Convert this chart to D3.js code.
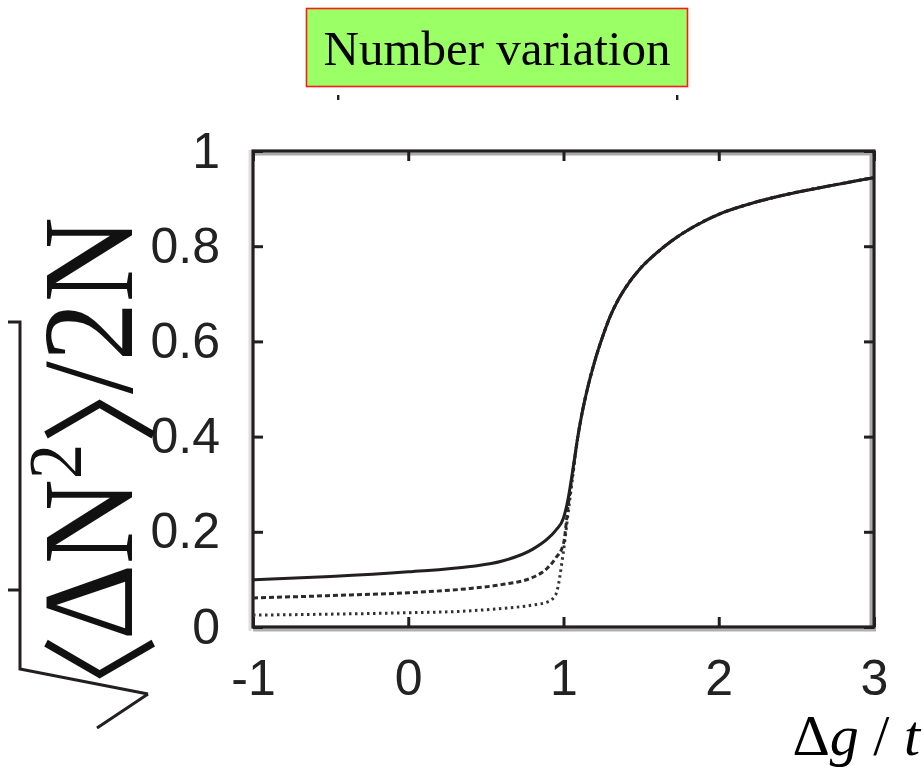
<!DOCTYPE html>
<html lang="en">
<head>
<meta charset="utf-8">
<title>Number variation</title>
<script src="https://cdn.jsdelivr.net/npm/d3@7"></script>
<style>
  body { margin: 0; background: #fff; }
  svg { display: block; }
</style>
</head>
<body>
<svg width="924" height="770"></svg>
<script>
// x grid shared by the three curves (Δg / t)
var xValues = [-1, -0.5, 0, 0.4, 0.6, 0.8, 0.9, 0.95, 1.0, 1.03, 1.06, 1.09, 1.12, 1.15, 1.2, 1.25, 1.3, 1.35, 1.4, 1.5, 1.6, 1.7, 1.85, 2.0, 2.2, 2.4, 2.7, 3.0];

// sqrt(<dN^2>)/2N for three system sizes
var solidValues  = [0.099, 0.106, 0.116, 0.127, 0.138, 0.163, 0.186, 0.203, 0.229, 0.27, 0.33, 0.395, 0.45, 0.495, 0.557, 0.608, 0.652, 0.686, 0.713, 0.755, 0.786, 0.812, 0.843, 0.867, 0.889, 0.906, 0.926, 0.944];
var dashedValues = [0.061, 0.066, 0.072, 0.081, 0.089, 0.104, 0.125, 0.145, 0.175, 0.255, 0.325, 0.395, 0.45, 0.495, 0.557, 0.608, 0.652, 0.686, 0.713, 0.755, 0.786, 0.812, 0.843, 0.867, 0.889, 0.906, 0.926, 0.944];
var dottedValues = [0.025, 0.027, 0.030, 0.034, 0.039, 0.046, 0.053, 0.068, 0.16, 0.24, 0.318, 0.395, 0.45, 0.495, 0.557, 0.608, 0.652, 0.686, 0.713, 0.755, 0.786, 0.812, 0.843, 0.867, 0.889, 0.906, 0.926, 0.944];

var xTicks = [-1, 0, 1, 2, 3];
var yTicks = [0, 0.2, 0.4, 0.6, 0.8, 1];

var svg = d3.select("svg");
var ink = "#231f20";
var serif = "'Liberation Serif', 'Times New Roman', serif";

var x = d3.scaleLinear().domain([-1, 3]).range([253, 874]);
var y = d3.scaleLinear().domain([0, 1]).range([627, 151]);

// title box
svg.append("rect")
    .attr("x", 306.5).attr("y", 8.5)
    .attr("width", 381).attr("height", 78)
    .attr("fill", "#9bff66")
    .attr("stroke", "#ff1a1a")
    .attr("stroke-width", 1.6);
svg.append("text")
    .attr("x", 497).attr("y", 65)
    .attr("text-anchor", "middle")
    .attr("font-family", serif)
    .attr("font-size", 49)
    .attr("fill", "#000")
    .text("Number variation");

// two stray marks under the title
[338, 677].forEach(function (px) {
    svg.append("rect").attr("x", px - 1).attr("y", 95).attr("width", 2.4).attr("height", 5).attr("fill", ink);
});

// plot frame with its grey inner shading
var x0 = x.range()[0], x1 = x.range()[1], y0 = y.range()[0], y1 = y.range()[1];
var shade = svg.append("g").attr("stroke-width", 3);
shade.append("line").attr("x1", x0).attr("x2", x1).attr("y1", y1 + 3).attr("y2", y1 + 3).attr("stroke", "#aaa");
shade.append("line").attr("x1", x1 - 3).attr("x2", x1 - 3).attr("y1", y1).attr("y2", y0).attr("stroke", "#aaa");
shade.append("line").attr("x1", x0).attr("x2", x1 + 2).attr("y1", y0 + 3).attr("y2", y0 + 3).attr("stroke", "#b0b0b0");
shade.append("line").attr("x1", x0 - 3).attr("x2", x0 - 3).attr("y1", y1 - 1).attr("y2", y0 + 4).attr("stroke", "#ddd");

svg.append("rect")
    .attr("x", x0).attr("y", y1)
    .attr("width", x1 - x0).attr("height", y0 - y1)
    .attr("fill", "none")
    .attr("stroke", ink)
    .attr("stroke-width", 3.2);

// axes: inward ticks on all four sides
var tickFont = "'Liberation Sans', Arial, Helvetica, sans-serif";
function styleAxis(g) {
    g.select(".domain").remove();
    g.selectAll(".tick line").attr("stroke", ink).attr("stroke-width", 3);
    g.selectAll(".tick text")
        .attr("font-family", tickFont)
        .attr("font-size", 50)
        .attr("fill", "#222");
}

svg.append("g")
    .attr("transform", "translate(" + x0 + ",0)")
    .call(d3.axisLeft(y).tickValues(yTicks).tickSize(-10).tickPadding(33).tickFormat(function (d) { return String(d); }))
    .call(styleAxis);

svg.append("g")
    .attr("transform", "translate(" + x1 + ",0)")
    .call(d3.axisRight(y).tickValues(yTicks).tickSize(-10).tickFormat(""))
    .call(styleAxis);

svg.append("g")
    .attr("transform", "translate(0," + y0 + ")")
    .call(d3.axisBottom(x).tickValues(xTicks).tickSize(-10).tickPadding(32).tickFormat(function (d) { return String(d); }))
    .call(styleAxis);

svg.append("g")
    .attr("transform", "translate(0," + y1 + ")")
    .call(d3.axisTop(x).tickValues(xTicks).tickSize(-10).tickFormat(""))
    .call(styleAxis);

// curves
var line = d3.line()
    .x(function (d) { return x(d[0]); })
    .y(function (d) { return y(d[1]); })
    .curve(d3.curveMonotoneX);

var series = [
    { values: dottedValues, dash: "2.5,3.5", color: "#333" },
    { values: dashedValues, dash: "5,3", color: "#2a2a2a" },
    { values: solidValues, dash: null, color: ink }
];

series.forEach(function (s) {
    svg.append("path")
        .datum(d3.zip(xValues, s.values))
        .attr("d", line)
        .attr("fill", "none")
        .attr("stroke", s.color)
        .attr("stroke-width", 3)
        .attr("stroke-dasharray", s.dash);
});

// x axis title
var xTitle = svg.append("text")
    .attr("x", 920).attr("y", 755)
    .attr("text-anchor", "end")
    .attr("font-family", serif)
    .attr("font-size", 58)
    .attr("fill", "#000");
xTitle.append("tspan").text("Δ");
xTitle.append("tspan").attr("font-style", "italic").text("g");
xTitle.append("tspan").text(" / ");
xTitle.append("tspan").attr("font-style", "italic").text("t");

// y axis title, rotated, with a radical sign drawn beside it
var cjk = "'Noto Sans CJK JP', 'Noto Sans CJK SC', sans-serif";
var yTitle = svg.append("g")
    .attr("transform", "translate(132,742) rotate(-90) scale(1,1.1)")
    .append("text")
    .attr("text-anchor", "start")
    .attr("font-family", serif)
    .attr("font-size", 118)
    .attr("fill", "#111");
yTitle.append("tspan").attr("font-family", cjk).attr("font-size", 108).attr("dy", 12).text("〈");
yTitle.append("tspan").attr("dx", -6).attr("dy", -12).text("ΔN");
yTitle.append("tspan").attr("font-size", 70).attr("dy", -46).text("2");
yTitle.append("tspan").attr("font-family", cjk).attr("font-size", 108).attr("dy", 58).text("〉");
yTitle.append("tspan").attr("dx", -58).attr("dy", -12).text("/2N");

svg.append("path")
    .attr("d", "M8,322H20V669L148,694M148,694L97,728M8,590H20")
    .attr("fill", "none")
    .attr("stroke", ink)
    .attr("stroke-width", 3);
</script>
</body>
</html>
